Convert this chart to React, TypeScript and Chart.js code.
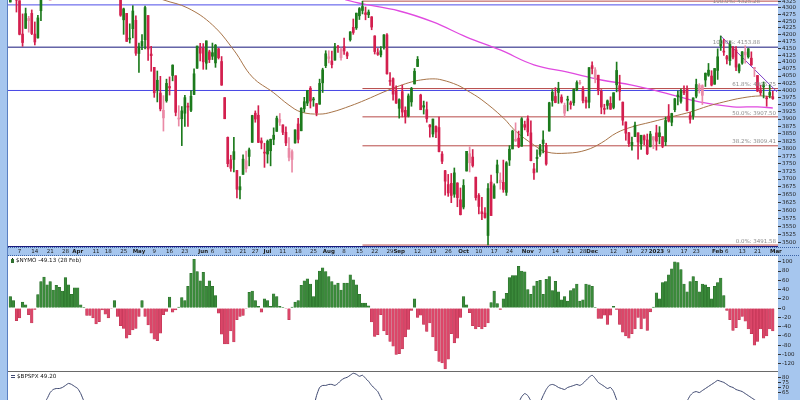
import React, { useEffect, useRef } from 'react';
import { Chart, registerables } from 'chart.js';

Chart.register(...registerables);

// ---------- DATA ----------
// daily S&P 500 candles, first one is 2 Mar 2022 (trading-day index -3), last is 28 Feb 2023 (index 246)
const FIRST_INDEX = -3;

const opens = [
  4322,4401,4342,4327,4202,4223,4252,4279,4202,4188,
  4289,4345,4407,4462,4469,4493,4469,4523,4541,4602,
  4624,4600,4540,4547,4573,4495,4475,4495,4462,4437,
  4394,4449,4385,4390,4473,4490,4385,4255,4279,4187,
  4222,4253,4131,4159,4181,4271,4129,4081,4035,3990,
  3904,3963,4013,4052,4051,3900,3928,3920,3943,3930,
  3985,4078,4151,4150,4096,4137,4134,4097,4148,4102,
  3974,3838,3763,3764,3728,3665,3715,3734,3774,3821,
  3920,3913,3826,3786,3782,3793,3831,3858,3889,3880,
  3855,3771,3764,3819,3883,3860,3935,3955,4007,3966,
  3953,3951,4026,4087,4113,4104,4107,4154,4116,4156,
  4133,4181,4227,4225,4270,4290,4281,4274,4266,4195,
  4134,4126,4154,4199,4034,4041,4000,3937,3995,3930,
  3910,3959,4022,4084,3983,3941,3932,3880,3849,3875,
  3871,3782,3727,3682,3686,3651,3687,3633,3610,3726,
  3753,3772,3706,3647,3595,3591,3521,3690,3638,3746,
  3688,3689,3657,3762,3799,3826,3835,3808,3881,3901,
  3853,3733,3767,3781,3817,3811,3859,3964,3978,4006,
  3976,3920,3967,3956,3956,4001,4024,4006,3965,3958,
  4087,4040,4053,3996,3934,3947,3954,3940,4070,4016,
  3958,3890,3853,3810,3840,3853,3816,3843,3829,3806,
  3829,3853,3840,3840,3823,3910,3889,3932,3977,3961,
  3999,4003,3912,3910,3979,4001,3982,4036,4053,4050,
  4021,4070,4158,4137,4120,4105,4153,4144,4068,4096,
  4126,4119,4114,4077,4052,4001,4019,3973,3992,3977
];
const highs = [
  4401,4416,4363,4327,4277,4299,4268,4292,4247,4272,
  4358,4412,4466,4481,4522,4501,4520,4546,4575,4637,
  4627,4603,4548,4583,4593,4503,4521,4521,4464,4471,
  4453,4460,4410,4471,4489,4513,4386,4299,4279,4240,
  4308,4270,4169,4200,4307,4271,4157,4081,4068,4049,
  3981,4039,4047,4090,4051,3946,3943,3982,3955,3999,
  4076,4158,4168,4167,4177,4143,4169,4164,4150,4120,
  3974,3839,3778,3838,3728,3708,3779,3792,3802,3913,
  3928,3946,3836,3818,3829,3832,3870,3910,3919,3880,
  3873,3837,3796,3863,3902,3939,3975,3999,4013,3975,
  3954,4039,4078,4141,4141,4140,4168,4161,4151,4187,
  4137,4211,4258,4280,4301,4325,4303,4292,4267,4196,
  4149,4156,4200,4204,4062,4044,4015,3970,4018,3942,
  3987,4010,4077,4120,3986,3962,3959,3881,3900,3877,
  3907,3790,3728,3715,3718,3736,3688,3671,3698,3791,
  3806,3797,3706,3653,3641,3608,3685,3713,3684,3762,
  3720,3762,3757,3810,3862,3887,3859,3905,3893,3911,
  3894,3751,3796,3814,3860,3818,3958,4002,4009,4028,
  3984,3955,3979,3962,4004,4033,4035,4013,3976,4080,
  4101,4080,4053,4002,3951,3966,3977,3991,4100,4053,
  3959,3890,3855,3839,3890,3853,3845,3846,3849,3858,
  3840,3879,3874,3840,3907,3950,3920,3971,3998,4004,
  4015,4015,3923,3973,4039,4023,4019,4061,4095,4069,
  4077,4148,4195,4183,4124,4176,4157,4156,4094,4138,
  4159,4149,4137,4081,4052,4017,4029,3979,4018,3997
];
const lows = [
  4322,4345,4284,4199,4157,4223,4209,4200,4162,4187,
  4252,4335,4390,4424,4468,4455,4465,4502,4517,4582,
  4581,4530,4507,4539,4514,4451,4450,4481,4408,4381,
  4392,4392,4370,4390,4455,4385,4268,4201,4175,4169,
  4188,4124,4063,4145,4148,4106,4067,3975,3959,3928,
  3859,3958,3983,4033,3911,3876,3810,3875,3875,3925,
  3984,4077,4104,4074,4074,4098,4109,4081,4111,4017,
  3901,3740,3725,3723,3639,3636,3715,3722,3743,3821,
  3889,3820,3799,3738,3752,3743,3813,3858,3878,3847,
  3810,3759,3722,3818,3819,3860,3924,3946,3938,3944,
  3911,3951,3992,4080,4097,4079,4107,4135,4107,4128,
  4112,4176,4201,4219,4256,4277,4255,4263,4218,4129,
  4124,4119,4147,4057,4017,3965,3954,3903,3907,3886,
  3907,3944,4022,4084,3932,3917,3889,3838,3839,3837,
  3789,3750,3648,3644,3624,3641,3611,3585,3604,3726,
  3723,3739,3632,3588,3570,3575,3492,3584,3638,3687,
  3667,3657,3647,3744,3799,3824,3803,3808,3863,3843,
  3759,3699,3722,3774,3786,3745,3859,3944,3956,3954,
  3955,3907,3928,3934,3947,3998,4020,3956,3937,3938,
  4058,4026,3984,3918,3917,3934,3933,3935,3994,3965,
  3879,3828,3807,3795,3840,3765,3797,3813,3780,3806,
  3800,3795,3816,3803,3810,3890,3877,3925,3949,3955,
  3984,3928,3886,3899,3973,3990,3950,4013,4049,4015,
  4021,4038,4142,4124,4093,4089,4111,4069,4061,4092,
  4096,4114,4088,4048,3995,3982,3973,3944,3973,3968
];
const closes = [
  4387,4363,4329,4201,4171,4278,4260,4204,4173,4262,
  4358,4412,4463,4461,4512,4456,4520,4543,4575,4632,
  4602,4530,4546,4583,4525,4481,4500,4488,4413,4397,
  4447,4392,4391,4463,4459,4394,4272,4296,4175,4183,
  4288,4132,4155,4175,4301,4147,4123,3991,4001,3935,
  3930,4024,4008,4089,3923,3901,3901,3974,3941,3979,
  4058,4158,4132,4101,4177,4109,4121,4161,4116,4018,
  3901,3750,3735,3790,3667,3675,3765,3760,3796,3912,
  3900,3821,3819,3785,3825,3831,3845,3903,3899,3855,
  3819,3801,3790,3863,3831,3937,3960,3999,3962,3967,
  3921,4024,4072,4130,4119,4091,4155,4152,4145,4140,
  4122,4210,4208,4280,4297,4305,4275,4284,4228,4138,
  4128,4141,4199,4058,4031,3986,3955,3967,3924,3908,
  3980,4006,4067,4110,3932,3946,3901,3873,3900,3856,
  3790,3758,3693,3655,3647,3720,3640,3586,3679,3791,
  3783,3744,3640,3612,3589,3577,3669,3583,3678,3720,
  3696,3666,3753,3798,3859,3831,3807,3901,3872,3856,
  3760,3720,3771,3807,3829,3749,3956,3993,3957,3992,
  3959,3947,3965,3950,4004,4027,4026,3964,3958,4080,
  4077,4072,3999,3941,3933,3963,3934,3991,4019,3996,
  3896,3852,3817,3821,3879,3822,3845,3829,3783,3849,
  3840,3825,3853,3808,3895,3893,3919,3970,3983,3999,
  3991,3929,3899,3973,4020,4017,4016,4060,4071,4018,
  4077,4119,4180,4136,4111,4164,4118,4082,4090,4137,
  4136,4148,4090,4079,3997,3991,4012,3970,3982,3970
];

// $NYMO daily values, same days as the candles
const nymo = [
  25,16,-27,-21,13,7,-14,-32,-3,
  29,57,67,50,57,39,49,45,37,66,50,30,44,44,7,1,
  -16,-16,-21,-34,-29,-4,-13,-21,
  -1,16,
  -18,-38,-44,-65,-57,-47,-44,-18,
  16,
  -18,-36,-54,-67,-70,-54,-14,-7,
  24,-9,-4,2,
  23,16,47,75,105,79,59,77,47,59,47,27,
  -11,-56,-77,-77,-49,-73,-25,-18,-16,-1,
  34,37,16,4,
  -9,
  20,16,4,31,25,4,1,
  -1,-25,2,
  13,16,49,59,63,52,25,61,80,87,79,68,57,50,54,39,54,54,72,61,50,30,11,11,
  5,
  -30,-61,-57,-14,-49,-57,-72,-82,-100,
  -98,-88,-62,-46,-5,20,
  -20,-15,-35,-50,-32,-62,-92,-115,-118,-131,
  -110,-55,-75,-65,-20,25,7,-10,-38,-45,
  -40,-45,-40,-32,12,37,10,-3,20,32,
  66,70,70,90,80,78,40,30,48,58,
  60,30,62,68,38,58,35,18,25,15,
  38,42,52,15,18,52,50,47,1,-22,
  -22,-15,-35,-15,4,-3,-35,-52,-60,-65,
  -55,-45,-20,-45,-22,-48,-8,2,33,20,
  55,57,72,85,100,98,83,52,35,57,
  68,58,35,52,50,45,20,47,55,65,
  27,-5,-25,-48,-42,-25,-18,-28,-45,-55,
  -80,-72,-45,-65,-60,-45,-49.13
];

// $BPSPX readings (trading-day index, value)
const bpIdx = [-4,0,4,8,9,10,11,12,13,14,15,16,17,18,19,20,21,22,26,32,40,48,56,62,70,78,86,92,96,97,98,99,100,101,102,103,104,105,106,107,108,109,110,111,112,113,114,115,116,117,118,119,124,132,140,148,156,161,163,164,165,166,167,168,170,171,172,173,174,175,176,177,178,179,180,181,182,183,184,185,186,187,188,189,190,191,192,193,194,195,196,200,206,212,216,218,219,220,221,222,223,224,225,226,227,228,229,230,231,232,233,234,235,236,237,238,239,240,241,242,243,244,245,246];
const bpVal = [50,52,54,55,59,65,68,69,69,70,72,74,73,71,69,64,57,54,48,42,36,30,28,36,24,30,38,44,52,62,70,72,72,73,73,72,74,77,79,80,82,84,83,81,82,79,76,72,69,66,60,55,48,44,26,28,34,46,55,61,64,62,57,55,56,62,68,72,73,72,70,69,68,70,71,72,73,72,74,77,80,82,79,75,73,71,69,70,66,58,52,44,40,48,54,57,62,65,66,65,67,69,71,73,75,77,76,75,73,71,70,68,67,66,64,62,60,58,56,54,53,51,50,49.2];

// moving averages (trading-day index, value)
const ma50Idx = [40,47,55,63,70,76,83,88,92,98,102,108,113,119,124,128,131,135,138,143,146,151,158,162,168,172,179,185,190,195,200,206,215,219,225,230,236,242,246];
const ma50Val = [4360,4330,4299,4236,4143,4047,3991,3948,3924,3917,3924,3945,3966,3994,4015,4029,4036,4040,4036,4018,4000,3966,3904,3859,3812,3789,3785,3795,3819,3853,3873,3889,3913,3924,3945,3959,3973,3980,3976];
const ma200Idx = [100,107,124,135,146,157,168,179,190,200,211,222,233,241,246];
const ma200Val = [4370,4329,4288,4247,4191,4144,4090,4064,4036,4018,3990,3959,3942,3942,3938];

// down trendline from the Feb high
const trendIdx = [229, 247.4];
const trendVal = [4195, 3994];

// horizontal support / resistance lines
const hLevels = [4311, 4154, 3999];
const fibStartIdx = 112;
const fibLevels = [4325.28, 4005.75, 3907.5, 3809.41, 3491.58];
const fibLabels = ['100.0%: 4325.28', '61.8%: 4005.75', '50.0%: 3907.50', '38.2%: 3809.41', '0.0%: 3491.58'];
const extraLevel = 4153.88;
const extraLabel = '100.0%: 4153.88';

// axis ticks
const priceTicks = [4325,4300,4275,4250,4225,4200,4175,4150,4125,4100,4075,4050,4025,4000,3975,3950,3925,3900,3875,3850,3825,3800,3775,3750,3725,3700,3675,3650,3625,3600,3575,3550,3525,3500];
const nymoTicks = [100,80,60,40,20,0,-20,-40,-60,-80,-100,-120];
const bpTicks = [80,75,70,65];
const dateTickIdx = [0,5,10,15,19,25,29,34,39,44,49,54,60,63,68,73,77,81,86,91,96,101,106,111,116,121,124,130,135,140,145,150,155,160,166,170,175,180,184,187,194,199,204,208,212,217,221,228,231,236,241,247];
const dateTickLabels = ['7','14','21','28','Apr','11','18','25','May','9','16','23','Jun','6','13','21','27','Jul','11','18','25','Aug','8','15','22','29','Sep','12','19','26','Oct','10','17','24','Nov','7','14','21','28','Dec','12','19','27','2023','9','17','23','Feb','6','13','21','Mar'];
const boldLabels = ['Apr','May','Jun','Jul','Aug','Sep','Oct','Nov','Dec','2023','Feb','Mar'];

const nymoTitle = '$NYMO -49.13 (28 Feb)';
const bpTitle = '$BPSPX 49.20';

// ---------- STYLE ----------
const FONT = 'DejaVu Sans';
const BG = '#a6c6ee';
const GREEN = '#1c7a1c';
const RED = '#d31f4e';
const PINK = '#ea8aa6';
const X_MIN = -3.76;
const X_MAX = 247.7;

function fixAxis(w: number) {
  return (s: any) => {
    s.width = w;
    s.paddingTop = 0; s.paddingBottom = 0; s.paddingLeft = 0; s.paddingRight = 0;
  };
}

function rightAxis(min: number, max: number, ticks: number[], type: string) {
  return {
    type,
    position: 'right',
    min, max,
    bounds: 'data',
    afterFit: fixAxis(22),
    afterBuildTicks: (s: any) => { s.ticks = ticks.map((v) => ({ value: v })); },
    ticks: {
      autoSkip: false,
      padding: 1,
      color: '#1e1e1e',
      font: { family: FONT, size: 5.5 },
      callback: (v: any) => String(v),
    },
    grid: { drawOnChartArea: false, drawTicks: true, tickLength: 3, color: '#333', lineWidth: 1 },
    border: { display: false },
  };
}

function hiddenX() {
  return { type: 'linear', min: X_MIN, max: X_MAX, offset: false, bounds: 'data', display: false };
}

const panelPlugin = {
  id: 'panelBg',
  beforeDraw(chart: any) {
    const { ctx, chartArea: a } = chart;
    ctx.save();
    ctx.fillStyle = '#ffffff';
    ctx.fillRect(a.left, a.top, a.right - a.left, a.bottom - a.top);
    ctx.strokeStyle = '#5a80c2';
    ctx.lineWidth = 1;
    ctx.beginPath();
    ctx.moveTo(a.left - 0.5, 0);
    ctx.lineTo(a.left - 0.5, chart.height);
    ctx.stroke();
    ctx.restore();
  },
};

function makePrice(canvas: HTMLCanvasElement) {
  const idx = opens.map((_, k) => k + FIRST_INDEX);
  const colors = closes.map((c, k) => {
    const prev = k > 0 ? closes[k - 1] : opens[k];
    if (c >= prev) return GREEN;
    return c < opens[k] ? RED : PINK;
  });
  const bodies = opens.map((o, k) => ({ x: idx[k], y: [Math.min(o, closes[k]), Math.max(o, closes[k])] }));
  const wicks = opens.map((_, k) => ({ x: idx[k], y: [lows[k], highs[k]] }));
  const line = (xs: number[], ys: number[]) => xs.map((x, i) => ({ x, y: ys[i] }));

  const hColors = ['#4d4de8', '#16167c', '#4646e6'];
  const datasets: any[] = [
    { type: 'bar', data: bodies, backgroundColor: colors, barThickness: 2, grouped: false, minBarLength: 1, order: 0 },
    { type: 'bar', data: wicks, backgroundColor: colors, barThickness: 1, grouped: false, order: 1 },
    { type: 'line', data: line(trendIdx, trendVal), borderColor: '#7d42c8', borderWidth: 1, pointRadius: 0, order: 2 },
    { type: 'line', data: line(ma50Idx, ma50Val), borderColor: '#a87448', borderWidth: 1, pointRadius: 0, tension: 0.4, order: 3 },
    { type: 'line', data: line(ma200Idx, ma200Val), borderColor: '#e04ae0', borderWidth: 1.3, pointRadius: 0, tension: 0.4, order: 3 },
  ];
  fibLevels.forEach((v) => {
    datasets.push({ type: 'line', data: [{ x: fibStartIdx, y: v }, { x: 260, y: v }], borderColor: '#b84a48', borderWidth: 1, pointRadius: 0, order: 4 });
  });
  hLevels.forEach((v, i) => {
    datasets.push({ type: 'line', data: [{ x: -20, y: v }, { x: 260, y: v }], borderColor: hColors[i], borderWidth: 1, pointRadius: 0, order: 5 });
  });

  const overlay = {
    id: 'priceOverlay',
    afterDatasetsDraw(chart: any) {
      const { ctx, chartArea: a, scales } = chart;
      const y = scales.y;
      ctx.save();
      ctx.beginPath();
      ctx.rect(a.left, a.top, a.right - a.left, a.bottom - a.top);
      ctx.clip();
      ctx.font = `5.5px "${FONT}"`;
      ctx.fillStyle = '#8c8c8c';
      ctx.textAlign = 'right';
      ctx.textBaseline = 'bottom';
      fibLevels.forEach((v, i) => {
        const right = i === 0 ? a.right - 18 : a.right - 2;
        ctx.fillText(fibLabels[i], right, Math.max(4, y.getPixelForValue(v) - 1));
      });
      ctx.fillText(extraLabel, a.right - 18, y.getPixelForValue(extraLevel) - 2);
      ctx.restore();
      // bottom border of price pane
      ctx.save();
      ctx.strokeStyle = '#1b1b7e';
      ctx.lineWidth = 1;
      ctx.beginPath();
      ctx.moveTo(a.left, a.bottom - 0.5);
      ctx.lineTo(a.right, a.bottom - 0.5);
      ctx.stroke();
      // date strip dotted borders
      ctx.strokeStyle = '#3d64a6';
      ctx.setLineDash([1, 1]);
      ctx.beginPath();
      ctx.moveTo(a.left, a.bottom + 0.5);
      ctx.lineTo(chart.width, a.bottom + 0.5);
      ctx.moveTo(a.left, chart.height - 0.5);
      ctx.lineTo(chart.width, chart.height - 0.5);
      ctx.stroke();
      ctx.restore();
    },
  };

  return new Chart(canvas, {
    type: 'bar',
    data: { datasets },
    options: {
      animation: false,
      responsive: false,
      maintainAspectRatio: false,
      layout: { padding: { left: 8, right: 0, top: 0, bottom: 0 } },
      plugins: { legend: { display: false }, tooltip: { enabled: false }, title: { display: false } },
      scales: {
        x: {
          type: 'linear',
          min: X_MIN,
          max: X_MAX,
          offset: false,
          bounds: 'data',
          afterFit: (s: any) => { s.height = 9; s.paddingLeft = 0; s.paddingRight = 0; s.paddingTop = 0; s.paddingBottom = 0; },
          afterBuildTicks: (s: any) => { s.ticks = dateTickIdx.map((v) => ({ value: v })); },
          ticks: {
            autoSkip: false,
            maxRotation: 0,
            minRotation: 0,
            padding: 1.5,
            color: '#1a1a1a',
            font: (c: any) => ({ family: FONT, size: 5.5, weight: boldLabels.includes(dateTickLabels[c.index]) ? 'bold' : 'normal' }),
            callback: (_v: any, i: number) => dateTickLabels[i],
          },
          grid: { display: false, drawTicks: false },
          border: { display: false },
        },
        y: rightAxis(3485.6, 4329.6, priceTicks, 'logarithmic'),
      },
    } as any,
    plugins: [panelPlugin, overlay],
  } as any);
}

function makeNymo(canvas: HTMLCanvasElement) {
  const data = nymo.map((v, k) => ({ x: k + FIRST_INDEX, y: v }));
  const overlay = {
    id: 'nymoOverlay',
    afterDraw(chart: any) {
      const { ctx, chartArea: a } = chart;
      ctx.save();
      ctx.fillStyle = '#2f6f2f';
      ctx.fillRect(a.left + 3, 3, 3, 4);
      ctx.fillStyle = '#111';
      ctx.fillRect(a.left + 4, 2, 1, 1);
      ctx.font = `5.6px "${FONT}"`;
      ctx.fillStyle = '#111';
      ctx.textAlign = 'left';
      ctx.textBaseline = 'top';
      ctx.fillText(nymoTitle, a.left + 8, 2);
      ctx.restore();
    },
  };
  return new Chart(canvas, {
    type: 'bar',
    data: {
      datasets: [{
        data,
        backgroundColor: nymo.map((v) => (v >= 0 ? '#3a8a3a' : '#dc4669')),
        borderColor: nymo.map((v) => (v >= 0 ? '#276a27' : '#b8304f')),
        borderWidth: 0.5,
        barThickness: 2.6,
      }],
    },
    options: {
      animation: false,
      responsive: false,
      maintainAspectRatio: false,
      layout: { padding: { left: 8, right: 0, top: 0, bottom: 0 } },
      plugins: { legend: { display: false }, tooltip: { enabled: false } },
      scales: { x: hiddenX(), y: rightAxis(-135.6, 112.4, nymoTicks, 'linear') },
    } as any,
    plugins: [panelPlugin, overlay],
  } as any);
}

function makeBp(canvas: HTMLCanvasElement) {
  const data = bpIdx.map((x, i) => ({ x, y: bpVal[i] }));
  const overlay = {
    id: 'bpOverlay',
    afterDraw(chart: any) {
      const { ctx, chartArea: a } = chart;
      ctx.save();
      ctx.strokeStyle = '#6a6a6a';
      ctx.lineWidth = 1;
      ctx.beginPath();
      ctx.moveTo(a.left, 0.5);
      ctx.lineTo(a.right, 0.5);
      ctx.stroke();
      ctx.strokeStyle = '#404a72';
      ctx.beginPath();
      ctx.moveTo(a.left + 3, 4.5);
      ctx.lineTo(a.left + 7, 4.5);
      ctx.moveTo(a.left + 3, 6.5);
      ctx.lineTo(a.left + 7, 6.5);
      ctx.stroke();
      ctx.font = `5.6px "${FONT}"`;
      ctx.fillStyle = '#111';
      ctx.textAlign = 'left';
      ctx.textBaseline = 'top';
      ctx.fillText(bpTitle, a.left + 9, 2.5);
      ctx.restore();
    },
  };
  return new Chart(canvas, {
    type: 'line',
    data: { datasets: [{ data, borderColor: '#3e4870', borderWidth: 1, pointRadius: 0, tension: 0.2 }] },
    options: {
      animation: false,
      responsive: false,
      maintainAspectRatio: false,
      layout: { padding: { left: 8, right: 0, top: 0, bottom: 0 } },
      plugins: { legend: { display: false }, tooltip: { enabled: false } },
      scales: { x: hiddenX(), y: rightAxis(57.7, 86.2, bpTicks, 'linear') },
    } as any,
    plugins: [panelPlugin, overlay],
  } as any);
}

export default function App() {
  const r1 = useRef<HTMLCanvasElement>(null);
  const r2 = useRef<HTMLCanvasElement>(null);
  const r3 = useRef<HTMLCanvasElement>(null);

  useEffect(() => {
    document.body.style.margin = '0';
    const charts = [makePrice(r1.current!), makeNymo(r2.current!), makeBp(r3.current!)];
    return () => charts.forEach((c) => c.destroy());
  }, []);

  return (
    <div style={{ position: 'relative', width: 800, height: 400, background: BG, overflow: 'hidden' }}>
      <canvas ref={r1} width={800} height={256} style={{ position: 'absolute', left: 0, top: 0 }} />
      <canvas ref={r2} width={800} height={115} style={{ position: 'absolute', left: 0, top: 256 }} />
      <canvas ref={r3} width={800} height={29} style={{ position: 'absolute', left: 0, top: 371 }} />
    </div>
  );
}
